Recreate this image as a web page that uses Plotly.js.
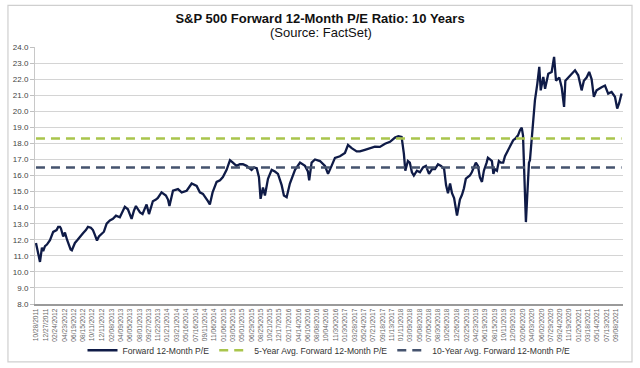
<!DOCTYPE html>
<html>
<head>
<meta charset="utf-8">
<script src="https://cdn.plot.ly/plotly-3.0.1.min.js"></script>
<style>
html,body{margin:0;padding:0;background:#fff;}
#chart{width:640px;height:368px;}
</style>
</head>
<body>
<div id="chart"></div>
<script>
// Forward 12-Month P/E
var dates = [
"2011-10-28","2011-11-09","2011-11-22","2011-12-04","2011-12-12","2011-12-23",
"2012-01-04","2012-01-23","2012-02-12","2012-03-04","2012-03-14","2012-03-25","2012-03-31","2012-04-14","2012-04-25","2012-05-08","2012-05-17","2012-05-30","2012-06-07","2012-06-26","2012-07-09","2012-07-27","2012-08-15","2012-09-02","2012-09-15","2012-10-03","2012-10-16","2012-10-28","2012-11-10","2012-11-22","2012-12-09","2012-12-23",
"2013-01-09","2013-01-29","2013-02-17","2013-03-08","2013-04-01","2013-04-20","2013-05-02","2013-05-21","2013-06-02","2013-06-13","2013-06-27","2013-07-10","2013-07-22","2013-08-04","2013-08-20","2013-09-04","2013-09-14","2013-09-29","2013-10-11","2013-10-23","2013-11-11","2013-11-23","2013-12-16",
"2014-01-12","2014-01-25","2014-02-03","2014-02-25","2014-03-28","2014-04-20","2014-05-21","2014-06-21","2014-07-22","2014-08-11","2014-08-30","2014-09-30","2014-10-12","2014-10-29","2014-11-23","2014-12-14",
"2015-01-01","2015-01-24","2015-02-14","2015-03-04","2015-03-26","2015-04-17","2015-05-05","2015-05-28","2015-06-12","2015-06-28","2015-07-13","2015-07-30","2015-08-13","2015-08-23","2015-09-07","2015-09-19","2015-10-08","2015-10-31","2015-11-20","2015-12-09",
"2016-01-01","2016-01-15","2016-02-01","2016-02-21","2016-03-24","2016-04-24","2016-05-25","2016-06-12","2016-06-20","2016-07-05","2016-07-26","2016-08-26","2016-09-26","2016-10-15","2016-11-06","2016-11-27","2016-12-28",
"2017-01-28","2017-02-16","2017-03-11","2017-04-11","2017-05-01","2017-06-01","2017-07-02","2017-08-02","2017-09-02","2017-10-04","2017-11-04","2017-12-05","2017-12-26",
"2018-01-15","2018-01-29","2018-02-07","2018-02-23","2018-03-07","2018-03-20","2018-04-01","2018-04-20","2018-05-09","2018-05-28","2018-06-15","2018-07-04","2018-07-23","2018-08-10","2018-08-29","2018-09-17","2018-10-06","2018-10-18","2018-10-30","2018-11-12","2018-11-24","2018-12-07","2018-12-19","2018-12-25",
"2019-01-03","2019-01-12","2019-01-25","2019-02-06","2019-02-18","2019-03-03","2019-03-15","2019-03-27","2019-04-09","2019-04-21","2019-05-04","2019-05-16","2019-05-29","2019-06-10","2019-06-27","2019-07-05","2019-07-18","2019-07-30","2019-08-08","2019-08-17","2019-08-30","2019-09-11","2019-09-23","2019-10-08","2019-10-19","2019-11-08","2019-11-25","2019-12-09","2019-12-23",
"2020-01-01","2020-01-08","2020-01-20","2020-01-31","2020-02-08","2020-02-14","2020-02-20","2020-02-26","2020-03-04","2020-03-10","2020-03-16","2020-03-22","2020-04-08","2020-04-22","2020-05-07","2020-05-19","2020-05-28","2020-06-13","2020-06-24","2020-07-14","2020-08-04","2020-08-19","2020-08-31","2020-09-20","2020-10-05","2020-10-20","2020-10-28","2020-11-15","2020-12-06","2020-12-27",
"2021-01-16","2021-02-06","2021-02-20","2021-03-09","2021-03-25","2021-04-09","2021-04-23","2021-05-10","2021-06-10","2021-07-01","2021-07-21","2021-08-11","2021-09-01","2021-09-15","2021-09-27","2021-10-12"
];
var forwardPE = [
11.8,11.3,10.62,11.5,11.3,11.6,
11.7,11.97,12.49,12.6,12.8,12.8,12.7,12.2,12.45,12.0,11.7,11.4,11.35,11.8,11.95,12.2,12.4,12.6,12.8,12.75,12.6,12.3,11.95,12.2,12.4,12.5,
13.0,13.2,13.3,13.5,13.4,13.8,14.05,13.9,13.6,13.3,13.8,14.1,13.9,13.7,13.6,14.0,14.2,13.6,14.1,14.4,14.5,14.6,14.95,
14.75,14.5,14.1,15.05,15.15,14.95,15.05,15.5,15.35,14.95,14.85,14.4,14.2,14.95,15.6,15.7,
15.9,16.35,16.95,16.8,16.6,16.7,16.7,16.6,16.5,16.35,16.5,16.45,15.9,14.55,15.25,14.75,15.8,16.35,16.25,16.1,
15.4,14.75,14.65,15.5,16.35,16.8,16.6,16.25,15.7,16.8,17.0,16.9,16.6,16.1,16.6,17.1,17.2,
17.4,17.9,17.7,17.5,17.5,17.6,17.7,17.8,17.78,17.98,18.1,18.36,18.45,
18.4,17.36,16.3,16.9,16.8,16.2,16.0,16.3,16.2,16.5,16.6,16.1,16.4,16.4,16.7,16.6,16.4,15.4,14.9,15.5,14.9,14.6,13.8,13.5,
14.0,14.5,14.8,15.2,15.8,15.9,16.0,16.2,16.5,16.8,16.6,15.9,15.6,16.3,16.8,17.1,17.0,16.9,16.1,16.4,16.3,16.9,16.8,16.8,17.2,17.57,17.9,18.2,18.3,
18.4,18.5,18.82,18.98,18.5,17.0,15.0,13.1,14.5,16.0,16.8,16.95,19.23,20.68,21.72,22.76,21.3,22.13,21.4,22.34,22.45,23.38,21.9,22.1,21.5,20.27,21.9,22.1,22.34,22.55,
22.24,21.3,21.9,22.1,22.45,22.0,20.9,21.3,21.5,21.6,21.1,21.2,20.9,20.17,20.5,21.1
];
var avg5 = 18.3;
var avg10 = 16.5;
var tickDates = ["2011-10-28","2011-12-27","2012-02-24","2012-04-23","2012-06-19","2012-08-15","2012-10-11","2012-12-11","2013-02-08","2013-04-09","2013-06-05","2013-08-01","2013-09-27","2013-11-22","2014-01-21","2014-03-21","2014-05-16","2014-07-16","2014-09-11","2014-11-06","2015-01-06","2015-03-05","2015-05-01","2015-06-29","2015-08-25","2015-10-21","2015-12-17","2016-02-17","2016-04-14","2016-06-10","2016-08-08","2016-10-04","2016-11-30","2017-01-30","2017-03-28","2017-05-24","2017-07-21","2017-09-18","2017-11-13","2018-01-11","2018-03-09","2018-05-08","2018-07-05","2018-08-30","2018-10-26","2018-12-26","2019-02-25","2019-04-23","2019-06-19","2019-08-15","2019-10-11","2019-12-09","2020-02-06","2020-04-03","2020-06-02","2020-07-29","2020-09-24","2020-11-19","2021-01-20","2021-03-18","2021-05-14","2021-07-13","2021-09-08"];
var tickLabels = tickDates.map(function(d){var p=d.split("-");return p[1]+"/"+p[2]+"/"+p[0];});

var seriesNames = ["Forward 12-Month P/E","5-Year Avg. Forward 12-Month P/E","10-Year Avg. Forward 12-Month P/E"];
var x0 = dates[0], x1 = dates[dates.length-1];

var traces = [
  {x: dates, y: forwardPE, type:"scatter", mode:"lines", name: seriesNames[0],
   line:{color:"#0f1b47", width:2.3}},
  {x:[x0,x1], y:[avg5,avg5], type:"scatter", mode:"lines", name: seriesNames[1],
   line:{color:"#a9c54c", width:2.5, dash:"9px,6px"}},
  {x:[x0,x1], y:[avg10,avg10], type:"scatter", mode:"lines", name: seriesNames[2],
   line:{color:"#45536e", width:2.5, dash:"9px,6px"}}
];

var FONT = "Liberation Sans, Arial, sans-serif";
var layout = {
  width:640, height:368,
  margin:{l:35, r:17, t:47, b:64, autoexpand:false},
  paper_bgcolor:"#fff", plot_bgcolor:"#fff",
  showlegend:true,
  title:{text:"<b>S&P 500 Forward 12-Month P/E Ratio: 10 Years</b>",
    font:{family:FONT, size:13, color:"#111"}, x:0.5, xanchor:"center", y:0.951, yanchor:"middle"},
  annotations:[{text:"(Source: FactSet)", xref:"paper", yref:"paper", x:0.4864, y:1.058,
    xanchor:"center", yanchor:"middle", showarrow:false, font:{family:FONT, size:13, color:"#111"}}],
  xaxis:{type:"date", range:["2011-10-22","2021-10-21"], tickmode:"array", tickvals:tickDates, ticktext:tickLabels,
    tickangle:-90, tickfont:{family:FONT, size:6.6, color:"#666"}, showgrid:false, zeroline:false,
    showline:true, linecolor:"#9a9a9a", linewidth:2, ticks:"", fixedrange:true},
  yaxis:{range:[8,24], dtick:1, tickformat:".1f", tickfont:{family:FONT, size:8, color:"#444"},
    showgrid:true, gridcolor:"#d4d4d4", gridwidth:1, zeroline:false, showline:true, linecolor:"#c8c8c8",
    linewidth:1, ticks:"outside", ticklen:4, tickcolor:"#c0c0c0", fixedrange:true},
  legend:{orientation:"h", x:0.5, xanchor:"center", y:-0.18, yanchor:"middle",
    font:{family:FONT, size:8.6, color:"#333"}, bgcolor:"rgba(0,0,0,0)"},
  shapes:[{type:"rect", xref:"paper", yref:"paper", x0:-0.046, x1:1.0153, y0:-0.2254, y1:1.162,
    line:{color:"#cfcfcf", width:1.2}, fillcolor:"rgba(0,0,0,0)", layer:"below"}]
};
Plotly.newPlot("chart", traces, layout, {displayModeBar:false, staticPlot:true});
</script>
</body>
</html>
